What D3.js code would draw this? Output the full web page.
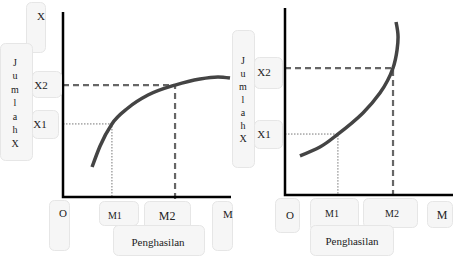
<!DOCTYPE html>
<html>
<head>
<meta charset="utf-8">
<script src="https://cdn.jsdelivr.net/npm/d3@7"></script>
<style>
  html, body { margin: 0; padding: 0; background: #fff; }
  svg { display: block; }
  text { font-family: "Liberation Serif", "DejaVu Serif", serif; fill: #222; }
</style>
</head>
<body>
<svg id="world" width="453" height="257"></svg>
<script>
'use strict';

// Labels
var xTicks = ['O', 'M1', 'M2', 'M'],
    yTicks = ['X1', 'X2'],
    yTitle = 'Jumlah X',
    xTitle = 'Penghasilan';

// Left panel: income levels (M1, M2), quantity levels (X1, X2), curve
var leftIncome = [29.3, 67.1],
    leftQty = [39.5, 60.5],
    leftCurveX = [17.4, 22.2, 29.3, 38.9, 50.9, 67.1, 82.0, 92.8, 100],
    leftCurveY = [16.2, 27.6, 39.5, 48.1, 55.1, 60.5, 63.8, 64.9, 64.3];

// Right panel
var rightIncome = [31.5, 64.3],
    rightQty = [32.6, 67.9],
    rightCurveX = [8.9, 20.8, 31.5, 46.4, 56.5, 64.3, 66.7, 67.3, 66.1],
    rightCurveY = [20.9, 25.7, 32.6, 43.9, 54.5, 67.9, 77.5, 84.5, 92.5];


var world = d3.select('#world');

function box(g, x0, y0, x1, y1) {
    g.append('rect')
        .attr('x', x0 + 0.5)
        .attr('y', y0 + 0.5)
        .attr('width', x1 - x0)
        .attr('height', y1 - y0)
        .attr('rx', 5)
        .attr('fill', '#f6f6f6')
        .attr('stroke', '#e6e6e6');
}

function label(g, x, y, s, size) {
    g.append('text')
        .attr('x', x)
        .attr('y', y)
        .attr('text-anchor', 'middle')
        .attr('dominant-baseline', 'central')
        .attr('font-size', size || 11)
        .text(s);
}

function drawPanel(p) {
    var g = world.append('g');
    var x = d3.scaleLinear().domain([0, 100]).range(p.xRange),
        y = d3.scaleLinear().domain([0, 100]).range(p.yRange);

    var pts = p.curveX.map(function (v, i) { return [v, p.curveY[i]]; });

    // guide lines: dotted for X1/M1, dashed for X2/M2
    g.append('path')
        .attr('d', 'M' + x(0) + ',' + y(p.qty[0]) + 'H' + x(p.income[0]) + 'V' + y(0))
        .attr('fill', 'none')
        .attr('stroke', '#777')
        .attr('stroke-width', 1)
        .attr('stroke-dasharray', '1.5,1.5');

    g.append('path')
        .attr('d', 'M' + x(0) + ',' + y(p.qty[1]) + 'H' + x(p.income[1]) + 'V' + (y(0) + 3))
        .attr('fill', 'none')
        .attr('stroke', '#666')
        .attr('stroke-width', 2.2)
        .attr('stroke-dasharray', '6,4');

    g.append('path')
        .datum(pts)
        .attr('d', d3.line()
            .x(function (d) { return x(d[0]); })
            .y(function (d) { return y(d[1]); })
            .curve(p.curve))
        .attr('fill', 'none')
        .attr('stroke', '#444')
        .attr('stroke-width', 3.5);

    // axes
    g.append('path')
        .attr('d', 'M' + x(0) + ',' + y(100) + 'V' + y(0) + 'H' + p.axisEnd)
        .attr('fill', 'none')
        .attr('stroke', '#000')
        .attr('stroke-width', 2.5);

    // label boxes
    p.boxes(g, x, y);
}

drawPanel({
    xRange: [63, 230],
    yRange: [197, 12],
    axisEnd: 231,
    income: leftIncome,
    qty: leftQty,
    curveX: leftCurveX,
    curveY: leftCurveY,
    curve: d3.curveMonotoneX,
    boxes: function (g, x, y) {
        box(g, 26, 2, 45, 52);
        label(g, 41, 16, 'X');
        box(g, 0, 43, 32, 160);
        yTitle.replace(' ', '').split('').forEach(function (c, i) {
            label(g, 15, 62 + i * 13.5, c, 10);
        });
        box(g, 32, 71, 61, 97);
        label(g, 41, y(leftQty[1]), yTicks[1]);
        box(g, 32, 110, 58, 138);
        label(g, 40, y(leftQty[0]), yTicks[0]);

        box(g, 49, 200, 69, 250);
        label(g, x(0), 213, xTicks[0]);
        box(g, 99, 201, 138, 225);
        label(g, x(leftIncome[0]) + 3, 215, xTicks[1], 10);
        box(g, 144, 201, 190, 232);
        label(g, x(leftIncome[1]) - 8, 216, xTicks[2], 12);
        box(g, 212, 201, 232, 250);
        label(g, 228, 214, xTicks[3]);
        box(g, 113, 225, 204, 255);
        label(g, 158, 242, xTitle, 11);
    }
});

drawPanel({
    xRange: [285, 453],
    yRange: [195, 8],
    axisEnd: 454,
    income: rightIncome,
    qty: rightQty,
    curveX: rightCurveX,
    curveY: rightCurveY,
    curve: d3.curveMonotoneY,
    boxes: function (g, x, y) {
        box(g, 232, 30, 254, 167);
        yTitle.replace(' ', '').split('').forEach(function (c, i) {
            label(g, 243, 60 + i * 13, c, 10);
        });
        box(g, 254, 57, 282, 88);
        label(g, 264, y(rightQty[1]) + 4, yTicks[1]);
        box(g, 254, 120, 282, 148);
        label(g, 264, y(rightQty[0]), yTicks[0]);

        box(g, 275, 198, 299, 232);
        label(g, 290, 215, xTicks[0]);
        box(g, 363, 198, 417, 227);
        label(g, 392, 213, xTicks[2], 10);
        box(g, 310, 198, 358, 230);
        label(g, 332, 213, xTicks[1], 10);
        box(g, 427, 201, 452, 227);
        label(g, 442, 215, xTicks[3], 12);
        box(g, 310, 225, 393, 255);
        label(g, 352, 241, xTitle, 11);
    }
});
</script>
</body>
</html>
